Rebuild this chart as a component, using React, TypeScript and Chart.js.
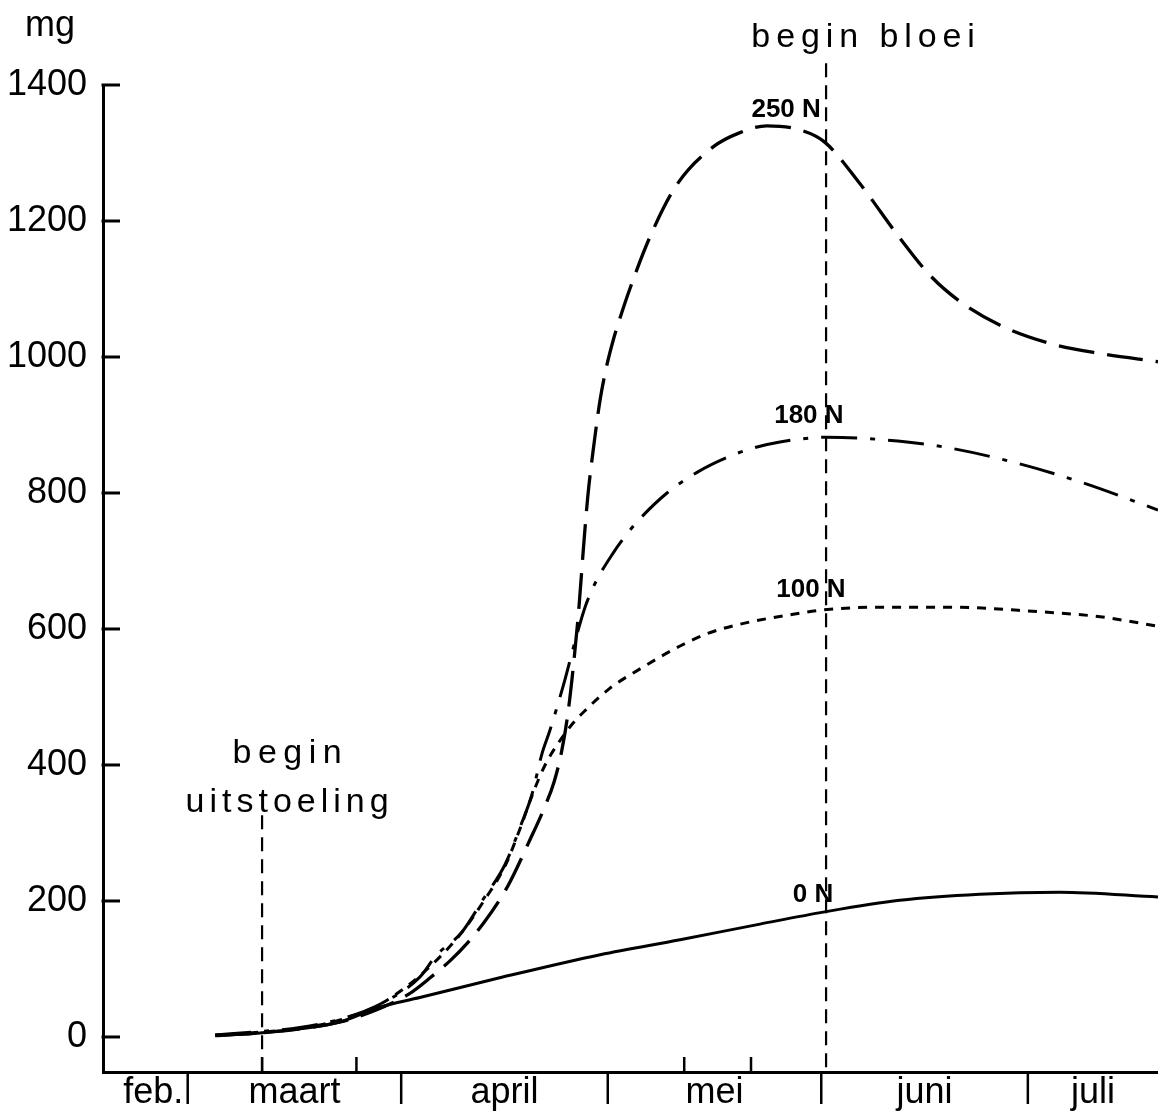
import React, { useEffect, useRef } from "react";
import { Chart, registerables } from "chart.js";

Chart.register(...registerables);

// ---- axis data (x = day of year) ----
const monthNames = ["feb.", "maart", "april", "mei", "juni", "juli"];
const monthStarts = [32, 60, 91, 121, 152, 182, 213];
const xMin = 47.7;
const xMax = 200.9;
const yMin = -51.5;
const yMax = 1400;
const yTickValues = [0, 200, 400, 600, 800, 1000, 1200, 1400];
const samplingDays = [70.8, 84.5, 132.1, 141.8];
const beginUitstoelingDay = 70.8;
const beginBloeiDay = 152.7;

// ---- series: 0 N ----
const days0N = [64.0, 70.5, 76.3, 82.1, 87.9, 93.7, 105.3, 119.9, 131.5, 143.1, 152.5, 163.4, 175.0, 186.6, 200.9];
const values0N = [2, 6, 12, 22, 44, 58, 87, 121, 143, 166, 184, 201, 210, 213, 206];

// ---- series: 100 N ----
const days100N = [64.0, 70.5, 76.3, 82.1, 87.9, 93.7, 99.5, 103.0, 106.1, 108.4, 110.0, 111.9, 113.8, 116.0, 117.7, 121.2, 126.3, 131.5, 135.4, 140.2, 147.5, 152.2, 160.5, 170.7, 182.7, 192.5, 200.9];
const values100N = [3, 7, 13, 25, 48, 90, 150, 200, 252, 310, 355, 400, 432, 462, 480, 512, 545, 575, 593, 607, 621, 628, 632, 632, 626, 618, 604];

// ---- series: 180 N ----
const days180N = [64.0, 70.5, 76.3, 82.1, 87.9, 93.7, 96.1, 99.8, 103.0, 106.1, 108.4, 110.0, 111.4, 112.6, 114.6, 116.2, 117.7, 119.2, 121.8, 123.5, 125.2, 129.6, 133.9, 139.2, 142.1, 146.0, 152.8, 160.1, 169.6, 180.4, 190.0, 200.9];
const values180N = [3, 8, 14, 26, 48, 88, 120, 154, 204, 254, 312, 357, 415, 451, 519, 580, 632, 668, 712, 736, 757, 800, 830, 856, 866, 875, 882, 879, 868, 844, 815, 775];

// ---- series: 250 N ----
const days250N = [64.0, 70.5, 76.3, 82.1, 87.9, 92.1, 95.2, 98.2, 100.6, 103.0, 105.5, 106.8, 109.7, 111.7, 113.2, 114.3, 115.2, 116.0, 116.8, 117.4, 118.1, 119.1, 119.9, 120.8, 121.8, 122.8, 124.2, 127.1, 131.0, 136.3, 140.2, 144.1, 148.9, 152.5, 157.6, 163.4, 167.8, 172.1, 177.9, 185.2, 192.5, 200.9];
const values250N = [2, 6, 12, 22, 42, 63, 87, 113, 138, 168, 205, 228, 290, 335, 375, 420, 475, 545, 630, 710, 795, 880, 938, 985, 1025, 1058, 1100, 1176, 1253, 1309, 1330, 1340, 1334, 1316, 1255, 1175, 1120, 1082, 1047, 1020, 1005, 993];

// ---- annotation texts (anchored in data coordinates) ----
const seriesLabels = ["250 N", "180 N", "100 N", "0 N"];
const seriesLabelDays = [146.9, 150.2, 150.5, 150.8];
const seriesLabelValues = [1353, 903, 647, 199];

const FONT = '"Liberation Sans", Arial, sans-serif';

const toPoints = (d: number[], v: number[]) => d.map((x, i) => ({ x, y: v[i] }));

function drawSpaced(ctx: CanvasRenderingContext2D, text: string, cx: number, y: number, spacing: number) {
  const chars = Array.from(text);
  const widths = chars.map((c) => ctx.measureText(c).width);
  const total = widths.reduce((a, b) => a + b, 0) + spacing * (chars.length - 1);
  let cur = cx - total / 2;
  ctx.textAlign = "left";
  chars.forEach((c, i) => {
    ctx.fillText(c, cur, y);
    cur += widths[i] + spacing;
  });
}

const overlay = {
  id: "overlay",
  afterDraw(chart: any) {
    const { ctx, chartArea } = chart;
    const x = chart.scales.x;
    const y = chart.scales.y;
    const { left, top, bottom } = chartArea;
    const line = (x1: number, y1: number, x2: number, y2: number) => {
      ctx.beginPath();
      ctx.moveTo(x1, y1);
      ctx.lineTo(x2, y2);
      ctx.stroke();
    };
    ctx.save();
    ctx.strokeStyle = "#000";
    ctx.fillStyle = "#000";
    ctx.lineCap = "butt";

    // y tick marks pointing inside
    ctx.lineWidth = 3;
    yTickValues.forEach((v) => {
      const py = y.getPixelForValue(v);
      line(left - 1.5, py, left + 17, py);
    });

    // sampling ticks above x axis
    ctx.lineWidth = 2.5;
    samplingDays.forEach((d) => {
      const px = x.getPixelForValue(d);
      line(px, bottom, px, bottom - 15);
    });

    // month separators below axis and labels
    ctx.lineWidth = 2.5;
    monthStarts.forEach((d) => {
      if (d > xMin && d < xMax) {
        const px = x.getPixelForValue(d);
        line(px, bottom, px, bottom + 32);
      }
    });
    ctx.font = `36px ${FONT}`;
    ctx.textAlign = "center";
    ctx.textBaseline = "alphabetic";
    monthNames.forEach((name, i) => {
      const a = Math.max(monthStarts[i], xMin);
      const b = Math.min(monthStarts[i + 1], xMax);
      let mid = x.getPixelForValue((a + b) / 2);
      if (i === 0) mid += 8;
      ctx.fillText(name, mid, bottom + 31);
    });

    // dashed vertical markers
    ctx.lineWidth = 2.2;
    ctx.setLineDash([14, 8]);
    const bx = x.getPixelForValue(beginBloeiDay);
    line(bx, y.getPixelForValue(1432), bx, bottom);
    const ux = x.getPixelForValue(beginUitstoelingDay);
    line(ux, y.getPixelForValue(326), ux, bottom);
    ctx.setLineDash([]);

    // unit label
    ctx.font = `36px ${FONT}`;
    ctx.textAlign = "left";
    ctx.fillText("mg", left - 78, top - 49);

    // phase labels
    ctx.font = `34px ${FONT}`;
    drawSpaced(ctx, "begin bloei", bx + 37, y.getPixelForValue(1456), 5.9);
    drawSpaced(ctx, "begin", ux + 25, y.getPixelForValue(403), 6.5);
    drawSpaced(ctx, "uitstoeling", ux + 25, y.getPixelForValue(331), 5);

    // series labels
    ctx.font = `bold 26px ${FONT}`;
    ctx.textAlign = "center";
    seriesLabels.forEach((t, i) => {
      ctx.fillText(t, x.getPixelForValue(seriesLabelDays[i]), y.getPixelForValue(seriesLabelValues[i]));
    });

    ctx.restore();
  },
};

export default function App() {
  const ref = useRef<HTMLCanvasElement>(null);
  useEffect(() => {
    document.body.style.margin = "0";
    const canvas = ref.current!;
    const base = {
      borderColor: "#000",
      backgroundColor: "#000",
      borderWidth: 3,
      pointRadius: 0,
      fill: false,
      cubicInterpolationMode: "monotone" as const,
    };
    const chart = new Chart(canvas, {
      type: "line",
      data: {
        datasets: [
          { ...base, label: "0 N", data: toPoints(days0N, values0N) },
          { ...base, label: "100 N", data: toPoints(days100N, values100N), borderDash: [9, 8] },
          { ...base, label: "180 N", data: toPoints(days180N, values180N), borderDash: [36, 13, 5, 13] },
          { ...base, label: "250 N", data: toPoints(days250N, values250N), borderDash: [36, 13], borderWidth: 3.3 },
        ],
      },
      options: {
        responsive: false,
        animation: false,
        devicePixelRatio: 1,
        layout: { padding: { top: 85, right: 0, left: 0, bottom: 0 } },
        plugins: { legend: { display: false }, tooltip: { enabled: false } },
        scales: {
          x: {
            type: "linear",
            min: xMin,
            max: xMax,
            grid: { display: false, drawTicks: false },
            border: { display: true, color: "#000", width: 3 },
            ticks: { display: false },
            afterFit: (s: any) => {
              s.height = 40;
            },
          },
          y: {
            type: "linear",
            min: yMin,
            max: yMax,
            grid: { display: false, drawTicks: false },
            border: { display: true, color: "#000", width: 3 },
            ticks: {
              color: "#000",
              padding: 16,
              font: { family: FONT, size: 36 },
              callback: (v: any) => String(v),
            },
            afterBuildTicks: (s: any) => {
              s.ticks = yTickValues.map((v) => ({ value: v }));
            },
            afterFit: (s: any) => {
              s.width = 103;
            },
          },
        },
      },
      plugins: [overlay],
    });
    return () => chart.destroy();
  }, []);
  return <canvas ref={ref} width={1158} height={1112} style={{ display: "block" }} />;
}
